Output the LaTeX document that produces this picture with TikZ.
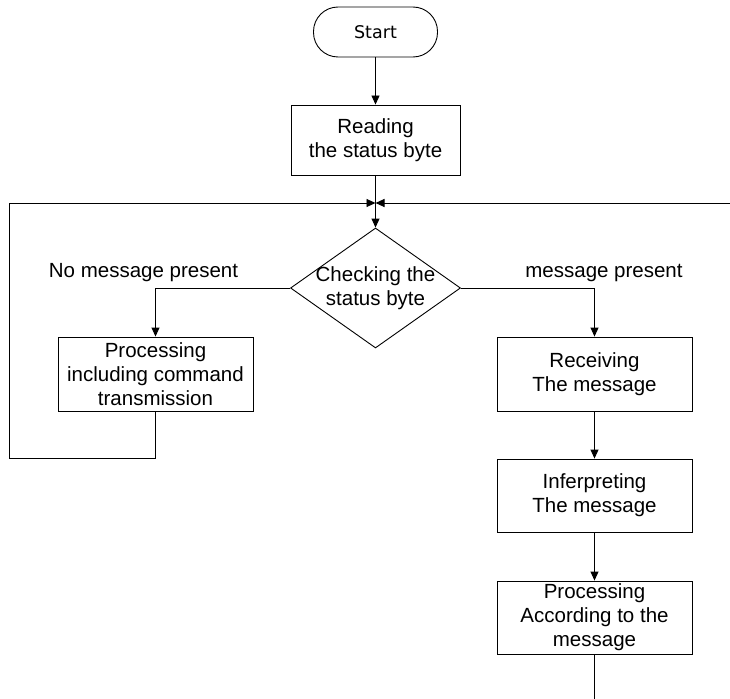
\documentclass[tikz,border=0pt]{standalone}
\usepackage{fontspec}
\setmainfont{Liberation Sans}
\newfontfamily\startfont{DejaVu Sans}
\usetikzlibrary{shapes.geometric,arrows.meta}
\tikzset{
  every picture/.style={x=1pt,y=-1pt},
  txt/.style={font=\fontsize{20.5}{24}\selectfont, align=center},
  box/.style={draw, line width=0.9pt, inner sep=0pt, txt},
  link/.style={draw, line width=0.9pt},
  arr/.style={link, -{Triangle[length=9pt,width=8pt]}},
}
\begin{document}
\begin{tikzpicture}
\useasboundingbox (0,0) rectangle (730,698);
\node[draw, line width=0.9pt, rounded corners=24.5pt, minimum width=124pt, minimum height=50pt, inner sep=0pt, font=\startfont\fontsize{17.5}{20}\selectfont] (start) at (375.5,32) {Start};
\node[box, minimum width=169pt, minimum height=70pt] (read) at (375.5,140) {Reading\\the status byte};
\node[diamond, draw, line width=0.9pt, minimum width=170pt, minimum height=120pt, inner sep=0pt,
  label={[txt]center:Checking the\\status byte}] (chk) at (375.5,288) {};
\node[box, minimum width=195pt, minimum height=74pt] (procL) at (155.5,374) {Processing\\including command\\transmission};
\node[box, minimum width=195pt, minimum height=74pt] (recv) at (594.5,374) {Receiving\\The message};
\node[box, minimum width=195pt, minimum height=73pt] (interp) at (594.5,495.5) {Inferpreting\\The message};
\node[box, minimum width=195pt, minimum height=73pt] (procR) at (594.5,617.5) {Processing\\According to the\\message};
\node[txt, anchor=base] (nolbl) at (143.5,277) {No message present};
\node[txt, anchor=base] (yeslbl) at (604,277) {message present};
\coordinate (J) at (375.5,203);
\coordinate (Rin) at (731,203);
\coordinate (Lb) at (155.5,458);
\coordinate (Lc) at (9.5,458);
\coordinate (Ld) at (9.5,203);
\coordinate (Rend) at (594.5,699);
\draw[arr] (start) -- (read);
\draw[arr] (read) -- (chk.north);
\draw[arr] (procL.south) -- (Lb) -- (Lc) -- (Ld) -- (J);
\draw[arr] (Rin) -- (J);
\draw[arr] (chk.west) -| (procL.north);
\draw[arr] (chk.east) -| (recv.north);
\draw[arr] (recv) -- (interp);
\draw[arr] (interp) -- (procR);
\draw[link] (procR.south) -- (Rend);
\end{tikzpicture}
\end{document}
